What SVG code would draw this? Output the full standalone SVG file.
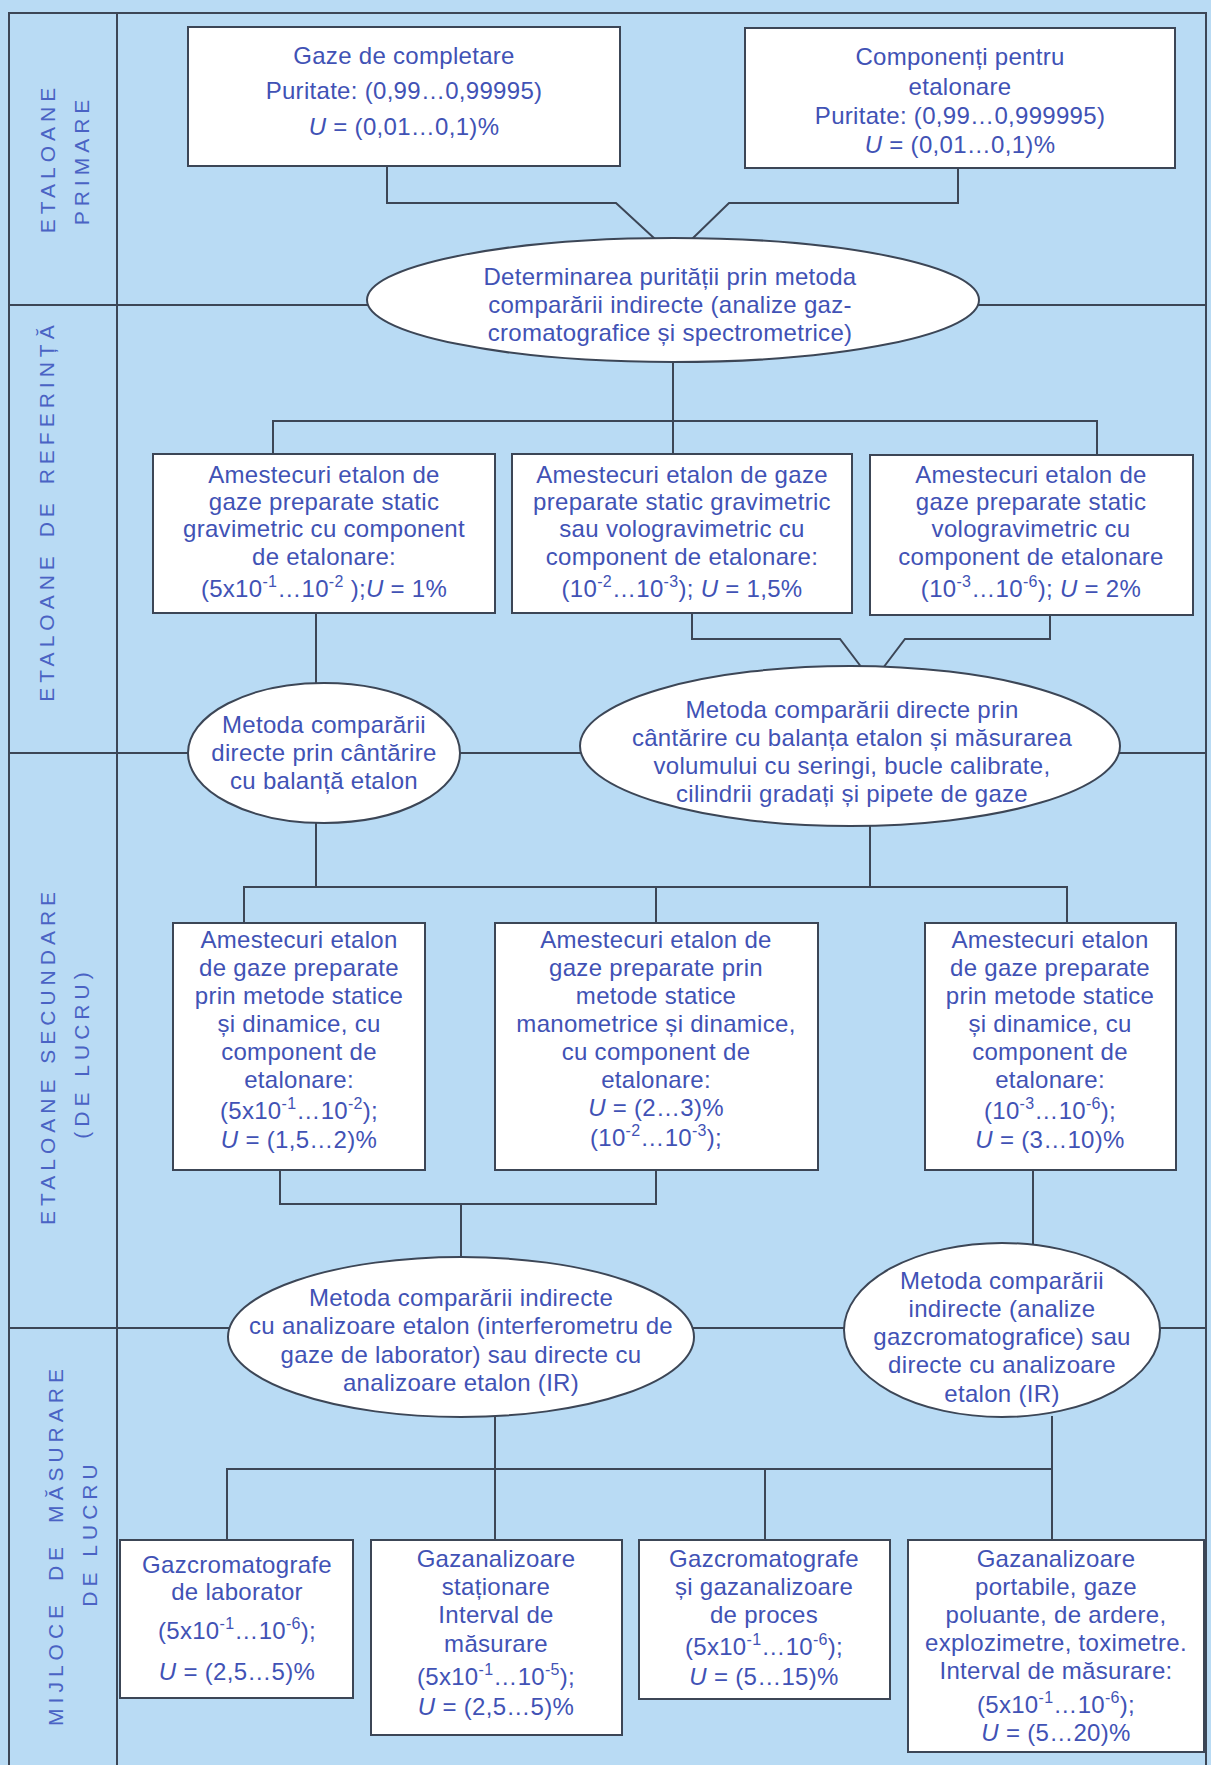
<svg xmlns="http://www.w3.org/2000/svg" width="1211" height="1765" viewBox="0 0 1211 1765">
<style>
.bg{fill:#b9dbf4}
.ln{fill:none;stroke:#3c4656;stroke-width:2}
.bx{fill:#ffffff;stroke:#3c4656;stroke-width:2}
.t{font-family:"Liberation Sans",Arial,sans-serif;font-size:24px;letter-spacing:0.3px;fill:#4152b5;text-anchor:middle}
.lb{font-family:"Liberation Sans",Arial,sans-serif;font-size:21px;letter-spacing:5px;fill:#4a63c4;text-anchor:middle}
.i{font-style:italic}
.s{font-size:16px}
</style>
<rect class="bg" x="0" y="0" width="1211" height="1765"/>

<g id="frame">
<path class="ln" d="M9,1765 V13 H1206 V1765"/>
<path class="ln" d="M117,13 V1765"/>
<path class="ln" d="M9,305 H1206 M9,753 H1206 M9,1328 H1206"/>
</g>

<g id="lane-labels">
<text class="lb" transform="translate(55,158) rotate(-90)" letter-spacing="5.8">ETALOANE</text>
<text class="lb" transform="translate(89,160) rotate(-90)">PRIMARE</text>
<text class="lb" transform="translate(54,511) rotate(-90)" letter-spacing="4" word-spacing="3">ETALOANE DE REFERINȚĂ</text>
<text class="lb" transform="translate(55,1056) rotate(-90)">ETALOANE SECUNDARE</text>
<text class="lb" transform="translate(89,1053) rotate(-90)">(DE LUCRU)</text>
<text class="lb" transform="translate(63,1545) rotate(-90)" letter-spacing="3" word-spacing="8">MIJLOCE DE MĂSURARE</text>
<text class="lb" transform="translate(97,1533) rotate(-90)" letter-spacing="7">DE LUCRU</text>
</g>

<g id="connectors">
<path class="ln" d="M387,166 V203 H616 L655,239"/>
<path class="ln" d="M958,168 V203 H729 L692,239"/>
<path class="ln" d="M673,362 V454 M273,454 V421 H1097 V455"/>
<path class="ln" d="M316,613 V683"/>
<path class="ln" d="M692,613 V639 H840 L862,668"/>
<path class="ln" d="M1050,615 V639 H905 L883,668"/>
<path class="ln" d="M316,823 V887 M244,923 V887 H1067 V923 M656,887 V923"/>
<path class="ln" d="M870,826 V887"/>
<path class="ln" d="M280,1170 V1204 H656 V1170 M461,1204 V1258"/>
<path class="ln" d="M1033,1170 V1244"/>
<path class="ln" d="M495,1417 V1540 M227,1540 V1469 H1052 M765,1469 V1540 M1052,1416 V1540"/>
</g>

<g id="n-gaze-completare">
<rect class="bx" x="188" y="27" width="432" height="139"/>
<text class="t" x="404" y="64">Gaze de completare</text>
<text class="t" x="404" y="99">Puritate: (0,99…0,99995)</text>
<text class="t" x="404" y="135"><tspan class="i">U</tspan> = (0,01…0,1)%</text>
</g>

<g id="n-componenti">
<rect class="bx" x="745" y="28" width="430" height="140"/>
<text class="t" x="960" y="65">Componenți pentru</text>
<text class="t" x="960" y="95">etalonare</text>
<text class="t" x="960" y="124">Puritate: (0,99…0,999995)</text>
<text class="t" x="960" y="153"><tspan class="i">U</tspan> = (0,01…0,1)%</text>
</g>

<g id="n-determinarea">
<ellipse class="bx" cx="673" cy="300" rx="306" ry="62"/>
<text class="t" x="670" y="285">Determinarea purității prin metoda</text>
<text class="t" x="670" y="313">comparării indirecte (analize gaz-</text>
<text class="t" x="670" y="341">cromatografice și spectrometrice)</text>
</g>

<g id="n-c1">
<rect class="bx" x="153" y="454" width="342" height="159"/>
<text class="t" x="324" y="483">Amestecuri etalon de</text>
<text class="t" x="324" y="510">gaze preparate static</text>
<text class="t" x="324" y="537">gravimetric cu component</text>
<text class="t" x="324" y="565">de etalonare:</text>
<text class="t" x="324" y="597">(5x10<tspan class="s" dy="-10">-1</tspan><tspan dy="10">…10</tspan><tspan class="s" dy="-10">-2</tspan><tspan dy="10"> );</tspan><tspan class="i">U</tspan> = 1%</text>
</g>

<g id="n-c2">
<rect class="bx" x="512" y="454" width="340" height="159"/>
<text class="t" x="682" y="483">Amestecuri etalon de gaze</text>
<text class="t" x="682" y="510">preparate static gravimetric</text>
<text class="t" x="682" y="537">sau vologravimetric cu</text>
<text class="t" x="682" y="565">component de etalonare:</text>
<text class="t" x="682" y="597">(10<tspan class="s" dy="-10">-2</tspan><tspan dy="10">…10</tspan><tspan class="s" dy="-10">-3</tspan><tspan dy="10">);  </tspan><tspan class="i">U</tspan>  = 1,5%</text>
</g>

<g id="n-c3">
<rect class="bx" x="870" y="455" width="323" height="160"/>
<text class="t" x="1031" y="483">Amestecuri etalon de</text>
<text class="t" x="1031" y="510">gaze preparate static</text>
<text class="t" x="1031" y="537">vologravimetric cu</text>
<text class="t" x="1031" y="565">component de etalonare</text>
<text class="t" x="1031" y="597">(10<tspan class="s" dy="-10">-3</tspan><tspan dy="10">…10</tspan><tspan class="s" dy="-10">-6</tspan><tspan dy="10">); </tspan><tspan class="i">U</tspan> = 2%</text>
</g>

<g id="n-e2">
<ellipse class="bx" cx="324" cy="753" rx="136" ry="70"/>
<text class="t" x="324" y="733">Metoda comparării</text>
<text class="t" x="324" y="761">directe prin cântărire</text>
<text class="t" x="324" y="789">cu balanță etalon</text>
</g>

<g id="n-e3">
<ellipse class="bx" cx="850" cy="746" rx="270" ry="80"/>
<text class="t" x="852" y="718">Metoda comparării directe prin</text>
<text class="t" x="852" y="746">cântărire cu balanța etalon și măsurarea</text>
<text class="t" x="852" y="774">volumului cu seringi, bucle calibrate,</text>
<text class="t" x="852" y="802">cilindrii gradați și pipete de gaze</text>
</g>

<g id="n-d1">
<rect class="bx" x="173" y="923" width="252" height="247"/>
<text class="t" x="299" y="948">Amestecuri etalon</text>
<text class="t" x="299" y="976">de gaze preparate</text>
<text class="t" x="299" y="1004">prin metode statice</text>
<text class="t" x="299" y="1032">și dinamice, cu</text>
<text class="t" x="299" y="1060">component de</text>
<text class="t" x="299" y="1088">etalonare:</text>
<text class="t" x="299" y="1119">(5x10<tspan class="s" dy="-10">-1</tspan><tspan dy="10">…10</tspan><tspan class="s" dy="-10">-2</tspan><tspan dy="10">);</tspan></text>
<text class="t" x="299" y="1148"><tspan class="i">U</tspan> = (1,5…2)%</text>
</g>

<g id="n-d2">
<rect class="bx" x="495" y="923" width="323" height="247"/>
<text class="t" x="656" y="948">Amestecuri etalon de</text>
<text class="t" x="656" y="976">gaze preparate prin</text>
<text class="t" x="656" y="1004">metode statice</text>
<text class="t" x="656" y="1032">manometrice și dinamice,</text>
<text class="t" x="656" y="1060">cu component de</text>
<text class="t" x="656" y="1088">etalonare:</text>
<text class="t" x="656" y="1116"><tspan class="i">U</tspan> = (2…3)%</text>
<text class="t" x="656" y="1146">(10<tspan class="s" dy="-10">-2</tspan><tspan dy="10">…10</tspan><tspan class="s" dy="-10">-3</tspan><tspan dy="10">);</tspan></text>
</g>

<g id="n-d3">
<rect class="bx" x="925" y="923" width="251" height="247"/>
<text class="t" x="1050" y="948">Amestecuri etalon</text>
<text class="t" x="1050" y="976">de gaze preparate</text>
<text class="t" x="1050" y="1004">prin metode statice</text>
<text class="t" x="1050" y="1032">și dinamice, cu</text>
<text class="t" x="1050" y="1060">component de</text>
<text class="t" x="1050" y="1088">etalonare:</text>
<text class="t" x="1050" y="1119">(10<tspan class="s" dy="-10">-3</tspan><tspan dy="10">…10</tspan><tspan class="s" dy="-10">-6</tspan><tspan dy="10">);</tspan></text>
<text class="t" x="1050" y="1148"><tspan class="i">U</tspan> = (3…10)%</text>
</g>

<g id="n-e4">
<ellipse class="bx" cx="461" cy="1337" rx="233" ry="80"/>
<text class="t" x="461" y="1306">Metoda comparării indirecte</text>
<text class="t" x="461" y="1334">cu analizoare etalon (interferometru de</text>
<text class="t" x="461" y="1363">gaze de laborator) sau directe cu</text>
<text class="t" x="461" y="1391">analizoare etalon (IR)</text>
</g>

<g id="n-e5">
<ellipse class="bx" cx="1002" cy="1330" rx="158" ry="87"/>
<text class="t" x="1002" y="1289">Metoda comparării</text>
<text class="t" x="1002" y="1317">indirecte (analize</text>
<text class="t" x="1002" y="1345">gazcromatografice) sau</text>
<text class="t" x="1002" y="1373">directe cu analizoare</text>
<text class="t" x="1002" y="1402">etalon (IR)</text>
</g>

<g id="n-f1">
<rect class="bx" x="120" y="1540" width="233" height="158"/>
<text class="t" x="237" y="1573">Gazcromatografe</text>
<text class="t" x="237" y="1600">de laborator</text>
<text class="t" x="237" y="1639">(5x10<tspan class="s" dy="-10">-1</tspan><tspan dy="10">…10</tspan><tspan class="s" dy="-10">-6</tspan><tspan dy="10">);</tspan></text>
<text class="t" x="237" y="1680"><tspan class="i">U</tspan> = (2,5…5)%</text>
</g>

<g id="n-f2">
<rect class="bx" x="371" y="1540" width="251" height="195"/>
<text class="t" x="496" y="1567">Gazanalizoare</text>
<text class="t" x="496" y="1595">staționare</text>
<text class="t" x="496" y="1623">Interval de</text>
<text class="t" x="496" y="1652">măsurare</text>
<text class="t" x="496" y="1685">(5x10<tspan class="s" dy="-10">-1</tspan><tspan dy="10">…10</tspan><tspan class="s" dy="-10">-5</tspan><tspan dy="10">);</tspan></text>
<text class="t" x="496" y="1715"><tspan class="i">U</tspan> = (2,5…5)%</text>
</g>

<g id="n-f3">
<rect class="bx" x="639" y="1540" width="251" height="159"/>
<text class="t" x="764" y="1567">Gazcromatografe</text>
<text class="t" x="764" y="1595">și gazanalizoare</text>
<text class="t" x="764" y="1623">de proces</text>
<text class="t" x="764" y="1655">(5x10<tspan class="s" dy="-10">-1</tspan><tspan dy="10">…10</tspan><tspan class="s" dy="-10">-6</tspan><tspan dy="10">);</tspan></text>
<text class="t" x="764" y="1685"><tspan class="i">U</tspan> = (5…15)%</text>
</g>

<g id="n-f4">
<rect class="bx" x="908" y="1540" width="296" height="212"/>
<text class="t" x="1056" y="1567">Gazanalizoare</text>
<text class="t" x="1056" y="1595">portabile, gaze</text>
<text class="t" x="1056" y="1623">poluante, de ardere,</text>
<text class="t" x="1056" y="1651">explozimetre, toximetre.</text>
<text class="t" x="1056" y="1679">Interval de măsurare:</text>
<text class="t" x="1056" y="1713">(5x10<tspan class="s" dy="-10">-1</tspan><tspan dy="10">…10</tspan><tspan class="s" dy="-10">-6</tspan><tspan dy="10">);</tspan></text>
<text class="t" x="1056" y="1741"><tspan class="i">U</tspan> = (5…20)%</text>
</g>
</svg>
